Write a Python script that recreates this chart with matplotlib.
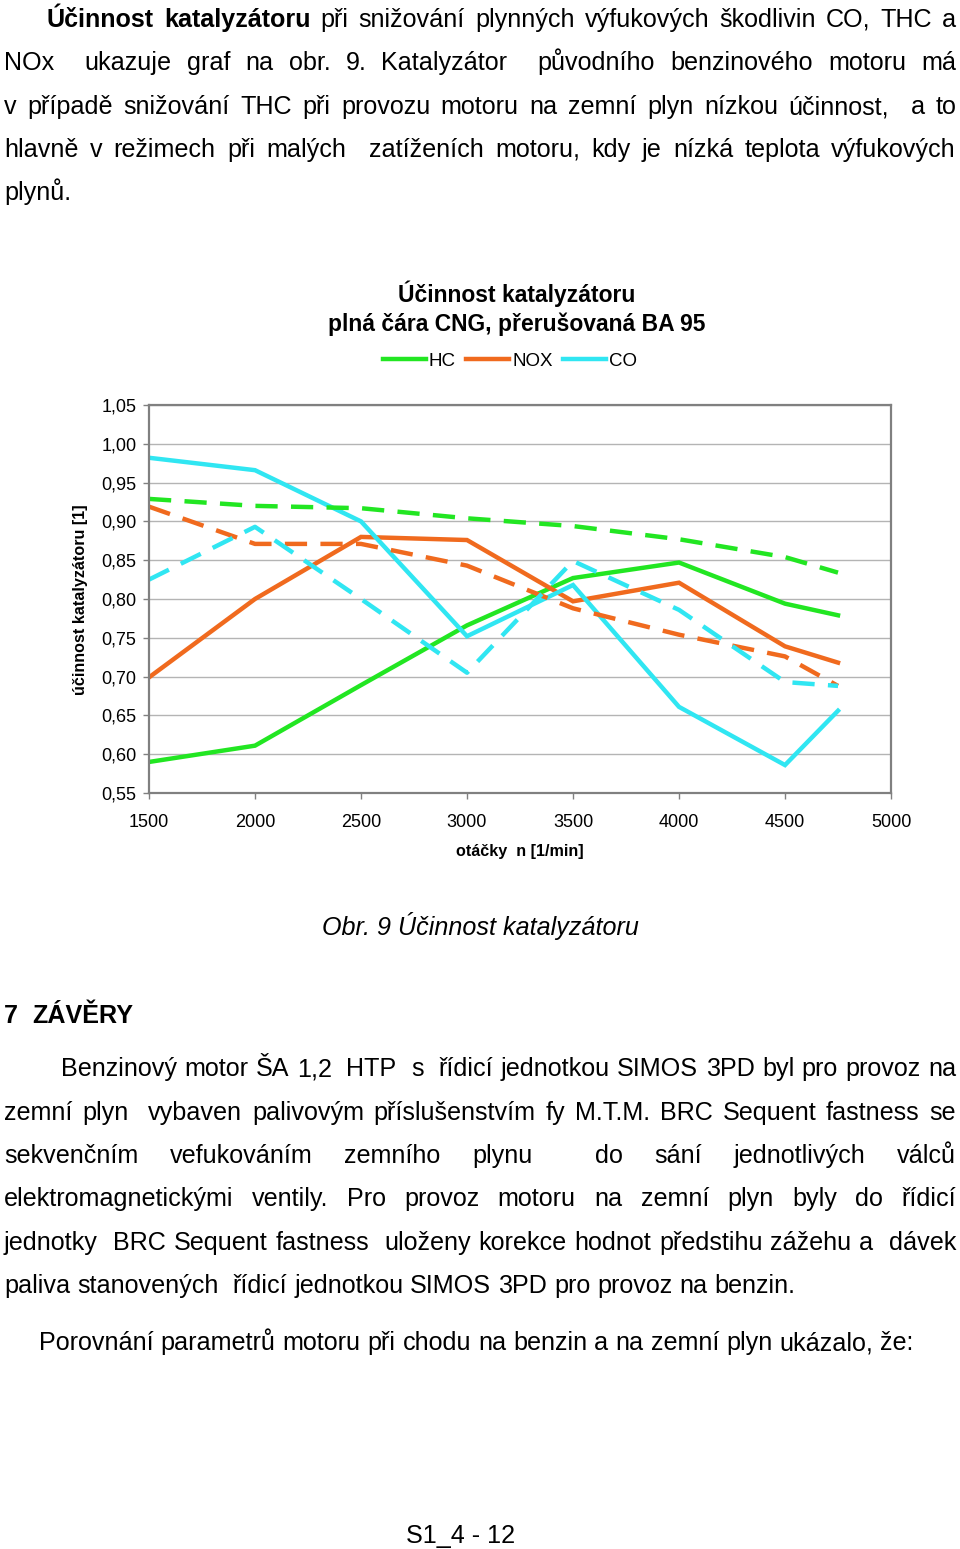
import re
import matplotlib
matplotlib.use("Agg")
import matplotlib.pyplot as plt
from matplotlib.ticker import FuncFormatter

## Catalyst efficiency page: text paragraphs around a line chart (CNG solid, BA 95 dashed)

# rpm values
otacky = [1500, 2000, 2500, 3000, 3500, 4000, 4500, 4750]

# efficiency values
hc_cng = [0.590, 0.611, 0.689, 0.766, 0.827, 0.847, 0.794, 0.779]
hc_ba = [0.929, 0.920, 0.917, 0.904, 0.894, 0.877, 0.854, 0.834]
nox_cng = [0.699, 0.800, 0.880, 0.876, 0.797, 0.821, 0.739, 0.718]
nox_ba = [0.919, 0.871, 0.871, 0.843, 0.788, 0.754, 0.726, 0.688]
co_cng = [0.982, 0.966, 0.900, 0.752, 0.818, 0.661, 0.586, 0.656]
co_ba = [0.825, 0.893, 0.800, 0.705, 0.849, 0.786, 0.693, 0.688]

series_names = ["HC", "NOX", "CO"]
y_ticks = [0.55, 0.60, 0.65, 0.70, 0.75, 0.80, 0.85, 0.90, 0.95, 1.00, 1.05]
x_ticks = [1500, 2000, 2500, 3000, 3500, 4000, 4500, 5000]

GREEN = "#22e622"
ORANGE = "#f06a1e"
CYAN = "#30e6f2"

W, H = 960, 1549
plt.rcParams["font.family"] = ["Liberation Sans", "DejaVu Sans"]
fig = plt.figure(figsize=(W / 100, H / 100), dpi=100)
renderer = fig.canvas.get_renderer()


def fx(x):
    return x / W


def fy(y):
    return 1 - y / H


def width_of(s, size, weight="normal"):
    t = fig.text(0, 0, s, fontsize=size, weight=weight)
    w = t.get_window_extent(renderer).width
    t.remove()
    return w


# write one line word by word, justified between x0 and x1 when x1 is given
def text_line(line, x0, base, x1=None, size=18.1, bold_words=0):
    parts = re.split(r"( +)", line)
    words = parts[0::2]
    spaces = parts[1::2]
    weights = ["bold" if i < bold_words else "normal" for i in range(len(words))]
    widths = [width_of(w, size, wt) for w, wt in zip(words, weights)]
    nsp = sum(len(s) for s in spaces)
    if x1 is None or nsp == 0:
        sp = width_of("x x", size) - width_of("xx", size)
    else:
        sp = (x1 - x0 - sum(widths)) / nsp
    x = x0
    for i in range(len(words)):
        fig.text(fx(x), fy(base), words[i], fontsize=size, weight=weights[i],
                 ha="left", va="baseline")
        x += widths[i]
        if i < len(spaces):
            x += sp * len(spaces[i])


# first paragraph
text_line("Účinnost katalyzátoru při snižování plynných výfukových škodlivin CO, THC a", 47, 27, 956, bold_words=2)
text_line("NOx  ukazuje graf na obr. 9. Katalyzátor  původního benzinového motoru má", 4, 70, 956)
text_line("v případě snižování THC při provozu motoru na zemní plyn nízkou účinnost,  a to", 4, 114, 956)
text_line("hlavně v režimech při malých  zatíženích motoru, kdy je nízká teplota výfukových", 4, 157, 956)
text_line("plynů.", 4, 200)

# chart
ax = fig.add_axes([fx(149), fy(793), (891 - 149) / W, (793 - 405) / H])
ax.plot(otacky, hc_cng, color=GREEN, lw=3.2, solid_joinstyle="miter")
ax.plot(otacky, nox_cng, color=ORANGE, lw=3.2, solid_joinstyle="miter")
ax.plot(otacky, co_cng, color=CYAN, lw=3.2, solid_joinstyle="miter")
ax.plot(otacky, hc_ba, color=GREEN, lw=3.2, dashes=(5, 3))
ax.plot(otacky, nox_ba, color=ORANGE, lw=3.2, dashes=(5, 3))
ax.plot(otacky, co_ba, color=CYAN, lw=3.2, dashes=(5, 3))

ax.set_xlim(1500, 5000)
ax.set_ylim(0.55, 1.05)
ax.set_xticks(x_ticks)
ax.set_yticks(y_ticks)
ax.yaxis.set_major_formatter(FuncFormatter(lambda v, p: "{:.2f}".format(v).replace(".", ",")))
ax.tick_params(axis="both", direction="out", length=4, width=1, color="#808080", labelsize=13)
ax.tick_params(axis="y", pad=5)
ax.tick_params(axis="x", pad=11)
ax.grid(axis="y", color="#b4b4b4", lw=1)
ax.set_axisbelow(True)
for s in ax.spines.values():
    s.set_color("#808080")
    s.set_linewidth(1.6)

leg = ax.legend(ax.lines[:3], series_names, loc="center", bbox_to_anchor=(fx(510), fy(361)),
                bbox_transform=fig.transFigure, ncol=3, frameon=False, fontsize=13.5,
                handlelength=2.3, handletextpad=0.15, columnspacing=0.55)

fig.text(fx(517), fy(302), "Účinnost katalyzátoru", fontsize=16.5, weight="bold", ha="center", va="baseline")
fig.text(fx(517), fy(331), "plná čára CNG, přerušovaná BA 95", fontsize=16.5, weight="bold", ha="center", va="baseline")
fig.text(fx(520), fy(852), "otáčky  n [1/min]", fontsize=11.6, weight="bold", ha="center", va="center")
fig.text(fx(80), fy(600), "účinnost katalyzátoru [1]", fontsize=11.6, weight="bold", ha="center", va="center", rotation=90)

# caption
fig.text(fx(480), fy(935), "Obr. 9 Účinnost katalyzátoru", fontsize=18.1, style="italic", ha="center", va="baseline")

# conclusions
text_line("7  ZÁVĚRY", 4, 1023, bold_words=2)
text_line("Benzinový motor ŠA 1,2  HTP  s  řídicí jednotkou SIMOS 3PD byl pro provoz na", 61, 1076, 956)
text_line("zemní plyn  vybaven palivovým příslušenstvím fy M.T.M. BRC Sequent fastness se", 4, 1120, 956)
text_line("sekvenčním  vefukováním  zemního  plynu    do  sání  jednotlivých  válců", 4, 1163, 956)
text_line("elektromagnetickými  ventily.  Pro  provoz  motoru  na  zemní  plyn  byly  do  řídicí", 4, 1206, 956)
text_line("jednotky  BRC Sequent fastness  uloženy korekce hodnot předstihu zážehu a  dávek", 4, 1250, 956)
text_line("paliva stanovených  řídicí jednotkou SIMOS 3PD pro provoz na benzin.", 4, 1293)
text_line("Porovnání parametrů motoru při chodu na benzin a na zemní plyn ukázalo, že:", 39, 1350)

fig.text(fx(461), fy(1543), "S1_4 - 12", fontsize=18.1, ha="center", va="baseline")

fig.savefig("out.png", dpi=100, facecolor="white")
